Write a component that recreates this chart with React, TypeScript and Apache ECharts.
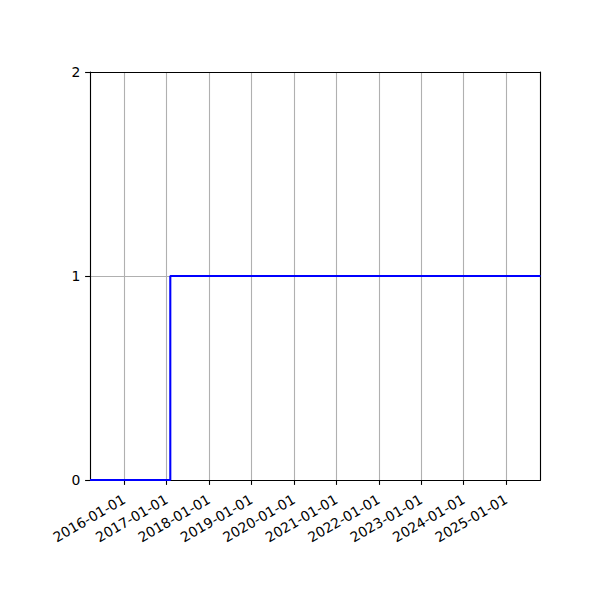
import { useRef, useEffect } from "react";
import * as echarts from "echarts";

// step series: value 0 until the jump, 1 afterwards
const stepDates = ["2015-03-14", "2017-02-02", "2025-10-24"];
const stepValues = [0, 1, 1];
const xMin = "2015-03-14";
const xMax = "2025-10-24";
const yTicks = [0, 1, 2];

const App = () => {
  const chartRef = useRef<HTMLDivElement>(null);

  useEffect(() => {
    if (!chartRef.current) return;
    const myChart = echarts.init(chartRef.current, null, { renderer: "svg" });
    const font = "DejaVu Sans";
    const frame = { show: true, lineStyle: { color: "#000", width: 1.1 } };
    const option: any = {
      animation: false,
      backgroundColor: "#ffffff",
      grid: { left: 90, top: 72, right: 59.5, bottom: 120 },
      xAxis: [
        {
          type: "time",
          min: xMin,
          max: xMax,
          minInterval: 365 * 86400000,
          splitNumber: 10,
          axisLine: frame,
          axisTick: { show: true, length: 4.9, lineStyle: { color: "#000", width: 1.1 } },
          axisLabel: {
            rotate: 30,
            margin: 18,
            color: "#000",
            fontFamily: font,
            fontSize: 13.9,
            showMinLabel: false,
            showMaxLabel: false,
            formatter: (v: number) => echarts.time.format(v, "{yyyy}-{MM}-{dd}", false),
          },
          splitLine: { show: true, lineStyle: { color: "#b0b0b0", width: 1.1 } },
        },
        {
          // top frame line
          type: "time",
          position: "top",
          min: xMin,
          max: xMax,
          axisLine: { ...frame, onZero: false },
          axisTick: { show: false },
          axisLabel: { show: false },
          splitLine: { show: false },
        },
      ],
      yAxis: [
        {
          type: "value",
          min: yTicks[0],
          max: yTicks[yTicks.length - 1],
          interval: 1,
          axisLine: frame,
          axisTick: { show: true, length: 4.9, lineStyle: { color: "#000", width: 1.1 } },
          axisLabel: {
            margin: 9.7,
            color: "#000",
            fontFamily: font,
            fontSize: 13.9,
          },
          splitLine: {
            show: true,
            showMinLine: false,
            showMaxLine: false,
            lineStyle: { color: "#b0b0b0", width: 1.1 },
          },
        },
        {
          // right frame line
          type: "value",
          position: "right",
          min: yTicks[0],
          max: yTicks[yTicks.length - 1],
          axisLine: { ...frame, onZero: false },
          axisTick: { show: false },
          axisLabel: { show: false },
          splitLine: { show: false },
        },
      ],
      series: [
        {
          type: "line",
          step: "end",
          showSymbol: false,
          data: stepDates.map((d, i) => [d, stepValues[i]]),
          lineStyle: { color: "#0000ff", width: 2.1 },
          itemStyle: { color: "#0000ff" },
        },
      ],
    };
    myChart.setOption(option);
    return () => {
      myChart.dispose();
    };
  }, []);

  return (
    <div
      ref={chartRef}
      style={{ position: "fixed", left: 0, top: 0, width: 600, height: 600 }}
    ></div>
  );
};

export default App;
